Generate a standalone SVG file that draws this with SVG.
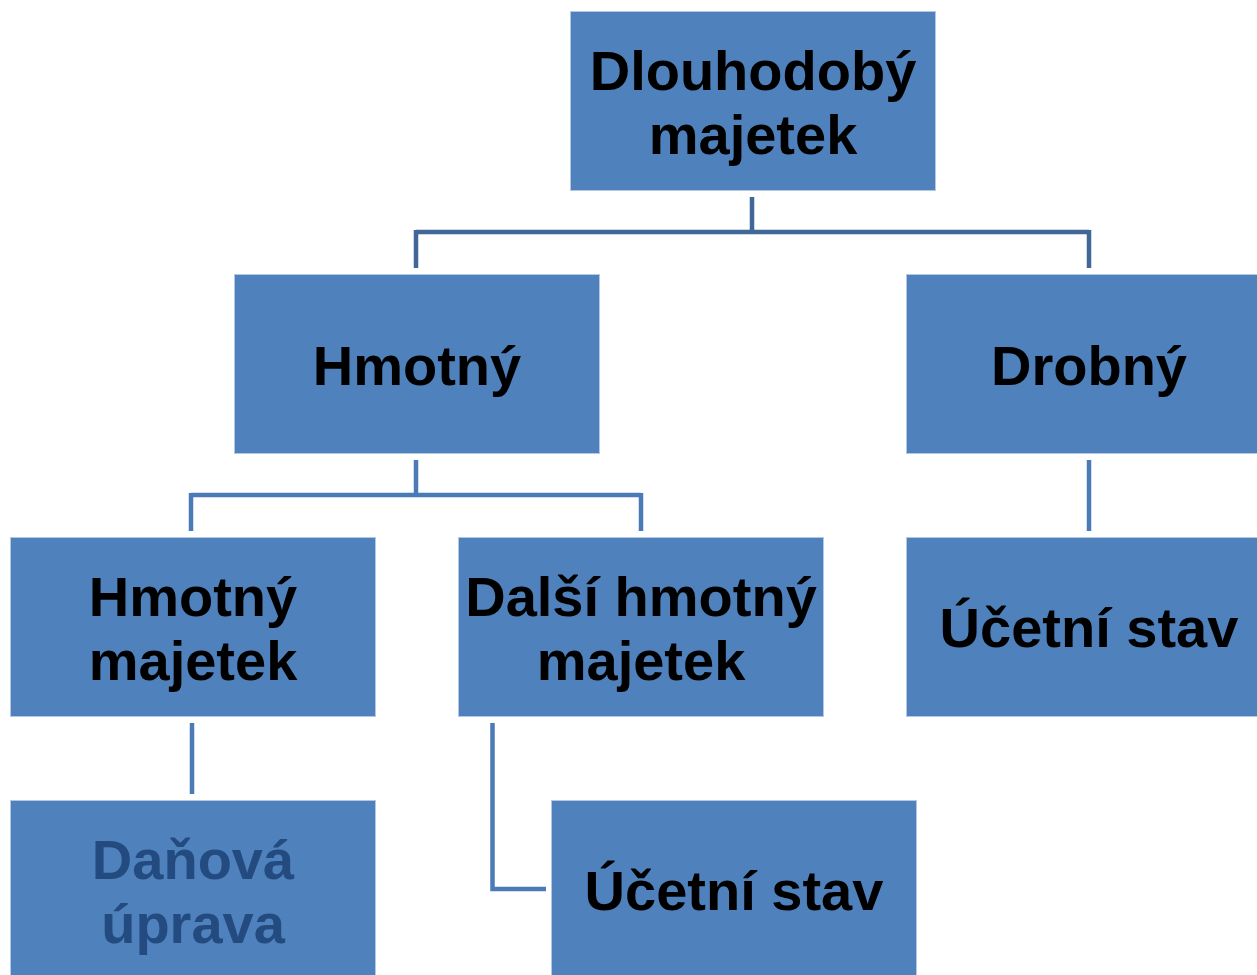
<svg xmlns="http://www.w3.org/2000/svg" width="1257" height="975" viewBox="0 0 1257 975">
<style>
.box{fill:#4f81bd;stroke:#b4c8e4;stroke-width:1}
.t{font-family:"Liberation Sans",Arial,sans-serif;font-weight:bold;font-size:56px;fill:#000;text-anchor:middle}
.dim{fill:#244b7f}
.c1{fill:none;stroke:#3f6797;stroke-width:4.5}
.c2{fill:none;stroke:#4a7bb7;stroke-width:4.5}
</style>
<rect width="1257" height="975" fill="#fff"/>
<g id="connectors">
<path class="c1" d="M752 197V232M416 232H1089M416 230V268M1089 230V268"/>
<path class="c2" d="M416 460V495M191 495H641M191 493V531M641 493V531"/>
<path class="c2" d="M1089 460V531"/>
<path class="c2" d="M192 723V794"/>
<path class="c2" d="M492.5 723V889H546"/>
</g>
<g id="n-dlouhodoby">
<rect class="box" x="570.5" y="11.5" width="365" height="179"/>
<text class="t" x="753" y="90">Dlouhodobý</text>
<text class="t" x="753" y="154">majetek</text>
</g>
<g id="n-hmotny">
<rect class="box" x="234.5" y="274.5" width="365" height="179"/>
<text class="t" x="417" y="385">Hmotný</text>
</g>
<g id="n-drobny">
<rect class="box" x="906.5" y="274.5" width="365" height="179"/>
<text class="t" x="1089" y="385">Drobný</text>
</g>
<g id="n-hmotny-majetek">
<rect class="box" x="10.5" y="537.5" width="365" height="179"/>
<text class="t" x="193" y="616">Hmotný</text>
<text class="t" x="193" y="680">majetek</text>
</g>
<g id="n-dalsi">
<rect class="box" x="458.5" y="537.5" width="365" height="179"/>
<text class="t" x="641" y="616">Další hmotný</text>
<text class="t" x="641" y="680">majetek</text>
</g>
<g id="n-ucetni-drobny">
<rect class="box" x="906.5" y="537.5" width="365" height="179"/>
<text class="t" x="1089" y="647">Účetní stav</text>
</g>
<g id="n-danova">
<rect class="box" x="10.5" y="800.5" width="365" height="179"/>
<text class="t dim" x="193" y="879">Daňová</text>
<text class="t dim" x="193" y="943">úprava</text>
</g>
<g id="n-ucetni-dalsi">
<rect class="box" x="551.5" y="800.5" width="365" height="179"/>
<text class="t" x="734" y="910">Účetní stav</text>
</g>
</svg>
